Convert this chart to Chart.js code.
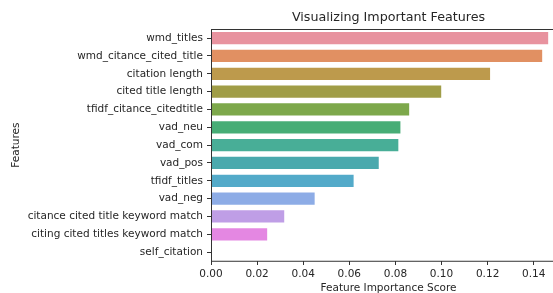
<!DOCTYPE html>
<html>
<head>
<meta charset="utf-8">
<script src="https://cdn.jsdelivr.net/npm/chart.js@4"></script>
<style>
  body { margin: 0; background: #fff; }
  #wrap { width: 553px; height: 293px; overflow: hidden; }
  #box { width: 566px; height: 300px; position: relative; }
</style>
</head>
<body>
<div id="wrap"><div id="box"><canvas id="myChart"></canvas></div></div>
<script>
let features = [
  'wmd_titles',
  'wmd_citance_cited_title',
  'citation length',
  'cited title length',
  'tfidf_citance_citedtitle',
  'vad_neu',
  'vad_com',
  'vad_pos',
  'tfidf_titles',
  'vad_neg',
  'citance cited title keyword match',
  'citing cited titles keyword match',
  'self_citation'
]
let scores = [0.1467, 0.1441, 0.1215, 0.1003, 0.0864, 0.0826, 0.0817, 0.0732, 0.0623, 0.0454, 0.0322, 0.0248, 0]
let barColors = [
  '#e8939f', '#e19062', '#bd9a4c', '#a09d47', '#7da84b', '#47ad76', '#48ae97',
  '#4aa9ad', '#53aac9', '#8dace6', '#bf9ee6', '#e487e2', '#e88fb9'
]
let xTicks = [0, 0.02, 0.04, 0.06, 0.08, 0.1, 0.12, 0.14]

Chart.defaults.font.family = "'DejaVu Sans', sans-serif"
Chart.defaults.color = '#262626'

// spines all round the plot, and title centred over the plot like matplotlib
const frame = {
  id: 'frame',
  afterLayout(chart) {
    if (chart.titleBlock) {
      chart.titleBlock.left = chart.chartArea.left
      chart.titleBlock.right = chart.chartArea.right
    }
  },
  afterDatasetsDraw(chart) {
    const { ctx, chartArea: a } = chart
    ctx.save()
    ctx.strokeStyle = '#333'
    ctx.lineWidth = 1
    ctx.strokeRect(Math.round(a.left) + 0.5, Math.round(a.top) + 0.5, a.right - a.left, a.bottom - a.top)
    ctx.restore()
  }
}

const ctx = document.getElementById('myChart').getContext('2d')
const myChart = new Chart(ctx, {
  type: 'bar',
  data: {
    labels: features,
    datasets: [
      {
        data: scores,
        backgroundColor: barColors,
        borderColor: 'rgba(255, 255, 255, 0.6)',
        borderWidth: 1,
        categoryPercentage: 0.8,
        barPercentage: 1
      }
    ]
  },
  options: {
    indexAxis: 'y',
    responsive: true,
    maintainAspectRatio: false,
    animation: false,
    layout: { padding: 0 },
    scales: {
      x: {
        min: 0,
        max: 0.154,
        afterBuildTicks: scale => {
          scale.ticks = xTicks.map(v => ({ value: v }))
        },
        afterFit: scale => {
          scale.height = 39
        },
        ticks: {
          font: { size: 10.5 },
          padding: 3,
          maxRotation: 0,
          callback: val => Number(val).toFixed(2)
        },
        grid: {
          drawOnChartArea: false,
          drawTicks: true,
          tickLength: 4,
          color: '#333'
        },
        border: { display: false },
        title: {
          display: true,
          text: 'Feature Importance Score',
          font: { size: 10.5 },
          padding: { top: 0, bottom: 5 }
        }
      },
      y: {
        afterFit: scale => {
          scale.width = 211
        },
        ticks: {
          font: { size: 10.5 },
          padding: 4,
          autoSkip: false
        },
        grid: {
          offset: false,
          drawOnChartArea: false,
          drawTicks: true,
          tickLength: 4,
          color: '#333'
        },
        border: { display: false },
        title: {
          display: true,
          text: 'Features',
          font: { size: 10.5 },
          padding: { top: 10, bottom: 0 }
        }
      }
    },
    plugins: {
      legend: { display: false },
      tooltip: { enabled: false },
      title: {
        display: true,
        text: 'Visualizing Important Features',
        font: { size: 12.7, weight: 'normal' },
        padding: { top: 10, bottom: 4 }
      }
    }
  },
  plugins: [frame]
})
</script>
</body>
</html>
